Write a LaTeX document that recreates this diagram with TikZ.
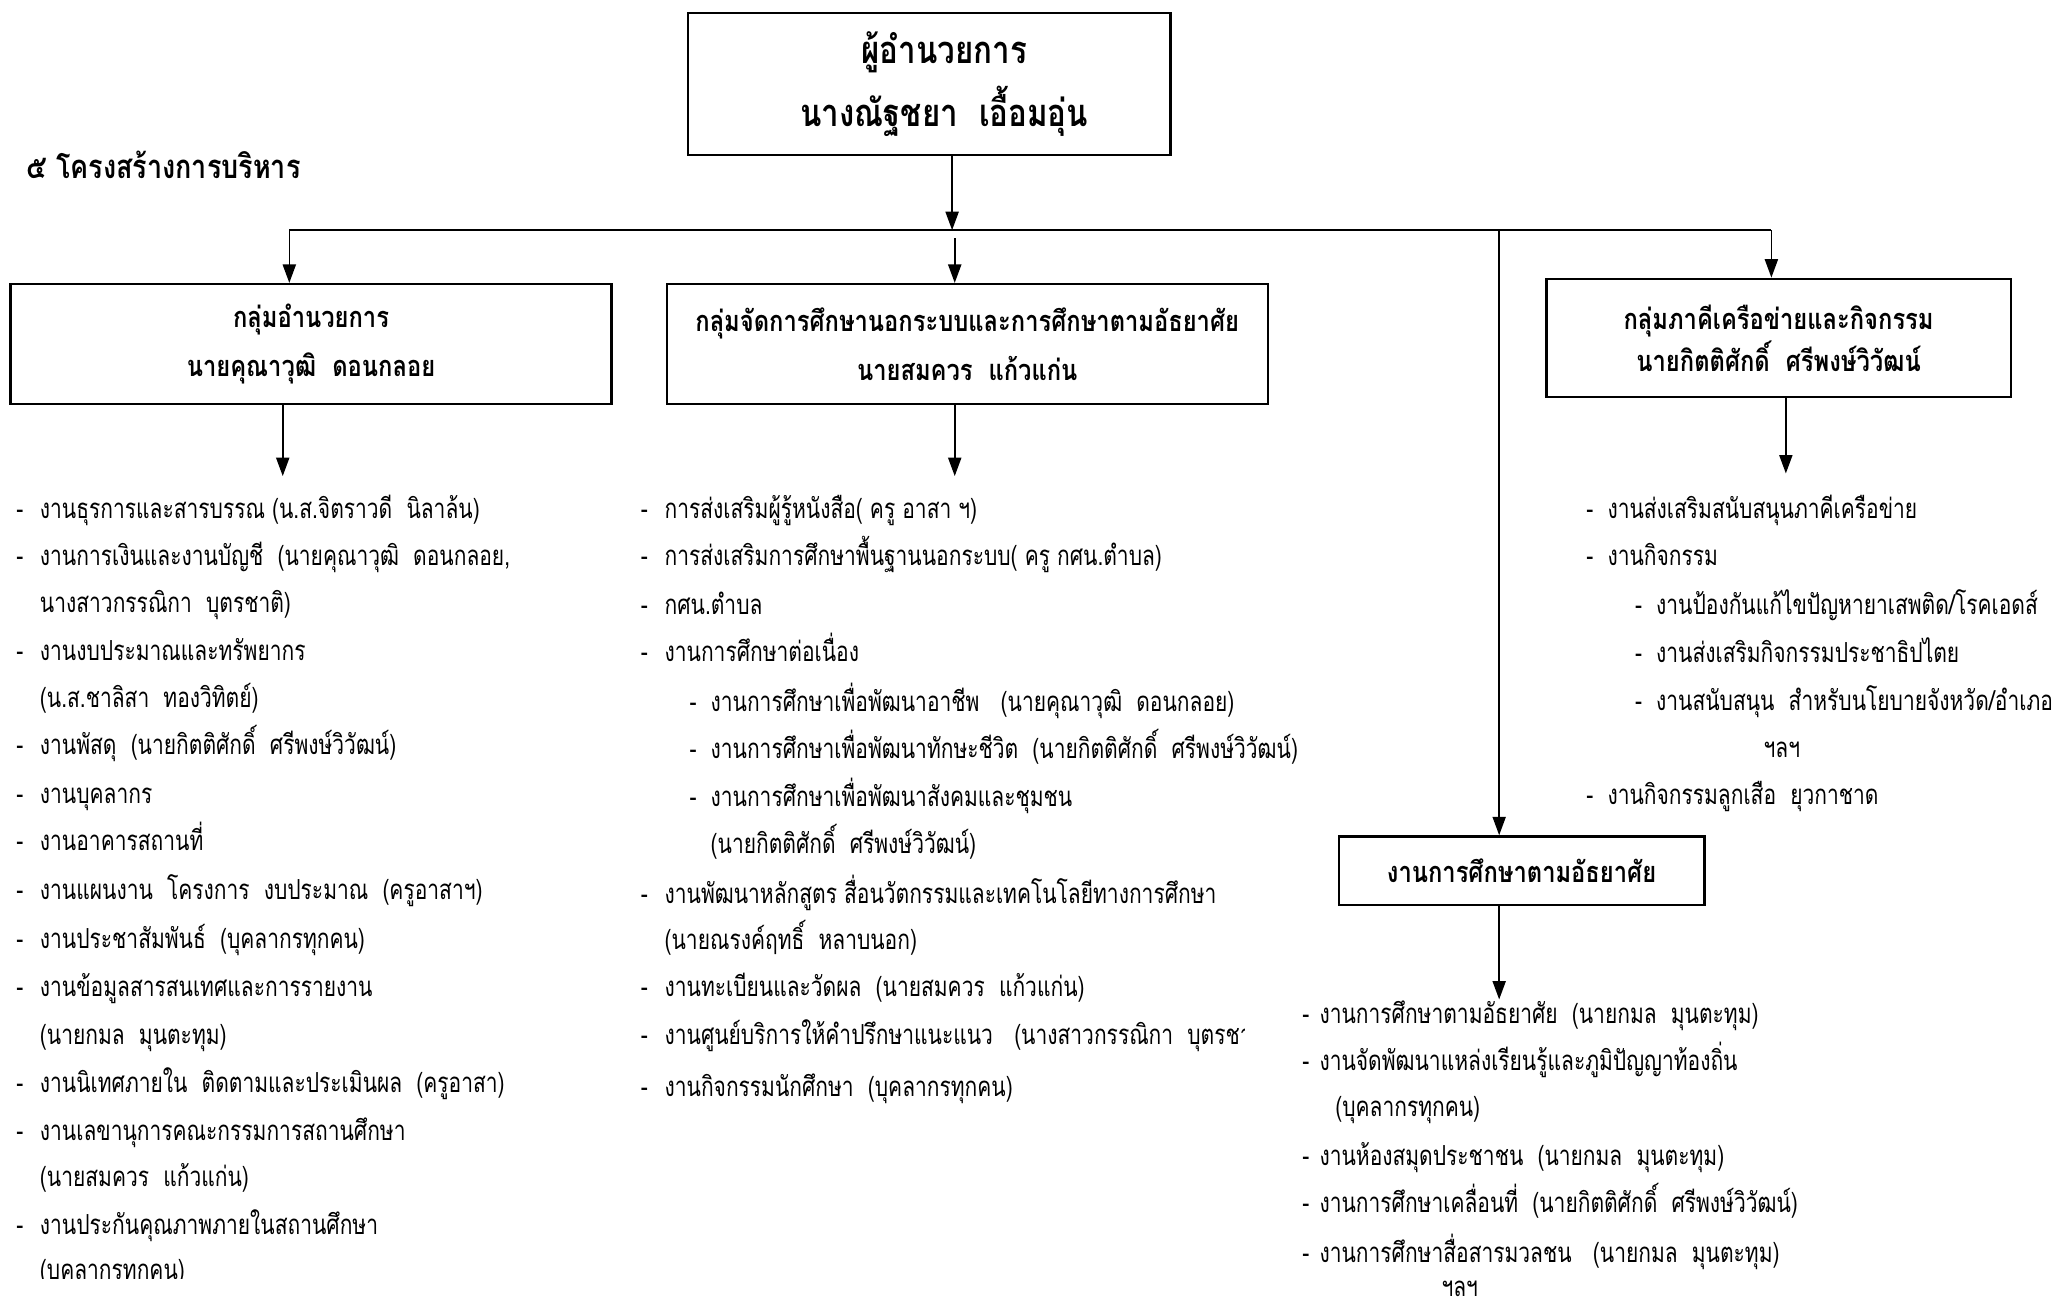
\documentclass[tikz,border=0pt]{standalone}
\usepackage{fontspec}
\usetikzlibrary{arrows.meta}
\setmainfont[Script=Thai,FakeStretch=0.76]{Loma}
\newfontfamily\thai[Script=Thai,FakeStretch=0.76]{Loma}
\newfontfamily\thaih[Script=Thai,FakeStretch=0.82]{Loma}
\newcommand\dsh[1]{\makebox[#1][l]{-}}
\begin{document}
\begin{tikzpicture}[x=0.5pt,y=-0.5pt,
  box/.style={draw, line width=0.9pt, inner sep=0pt, align=center},
  conn/.style={line width=0.6pt},
  arr/.style={line width=0.6pt, -{Triangle[length=7pt,width=5pt]}},
  item/.style={anchor=base west, inner sep=0pt, font=\thai\fontsize{10.5}{12}\selectfont},
  hdr/.style={font=\thaih\bfseries\fontsize{11}{18.5}\selectfont}]
\useasboundingbox (0,0) rectangle (1568,995);
% boxes
\node[box, minimum width=183.5pt, minimum height=54pt] (top) at (706.5,64) {};
\node[inner sep=0pt, align=center, font=\thaih\bfseries\fontsize{14.5}{24}\selectfont] (topt) at (718,64) {ผู้อำนวยการ\\นางณัฐชยา~~เอื้อมอุ่น};
\node[anchor=west, inner sep=0pt, font=\thaih\bfseries\fontsize{12.5}{14}\selectfont] (title) at (20,125) {๕ โครงสร้างการบริหาร};
\node[box, hdr, minimum width=228.5pt, minimum height=45.5pt] (g1) at (236.5,261.5) {กลุ่มอำนวยการ\\นายคุณาวุฒิ~~ดอนกลอย};
\node[box, hdr, minimum width=228.5pt, minimum height=45.5pt] (g2) at (735.5,261.5) {กลุ่มจัดการศึกษานอกระบบและการศึกษาตามอัธยาศัย\\นายสมควร~~แก้วแก่น};
\node[box, hdr, font=\thaih\bfseries\fontsize{11}{16}\selectfont, minimum width=176.5pt, minimum height=45pt] (g3) at (1352.5,257) {กลุ่มภาคีเครือข่ายและกิจกรรม\\นายกิตติศักดิ์~~ศรีพงษ์วิวัฒน์};
\node[box, hdr, minimum width=139pt, minimum height=26pt] (g4) at (1157,662) {งานการศึกษาตามอัธยาศัย};
% connectors
\coordinate (busL) at (220,175);
\coordinate (busR) at (1347,175);
\coordinate (busM) at (724,175);
\coordinate (b2s) at (726,181);
\coordinate (b4s) at (1140,175);
\draw[arr] (top.south -| busM) -- (busM);
\draw[conn] (busL) -- (busR);
\draw[arr] (busL) -- (g1.north -| busL);
\draw[arr] (b2s) -- (g2.north -| b2s);
\draw[arr] (b4s) -- (g4.north -| b4s);
\draw[arr] (busR) -- (g3.north -| busR);
\coordinate (l1) at (215,362);
\coordinate (l2) at (726,362);
\coordinate (l3) at (1358,360);
\coordinate (l4) at (1140,760);
\draw[arr] (g1.south -| l1) -- (l1);
\draw[arr] (g2.south -| l2) -- (l2);
\draw[arr] (g3.south -| l3) -- (l3);
\draw[arr] (g4.south -| l4) -- (l4);
% left list
\node[item] (L1) at (12,394) {\dsh{9pt}งานธุรการและสารบรรณ (น.ส.จิตราวดี~~นิลาล้น)};
\node[item] (L2) at (12,430) {\dsh{9pt}งานการเงินและงานบัญชี~~(นายคุณาวุฒิ~~ดอนกลอย,};
\node[item] (L3) at (30,466) {นางสาวกรรณิกา~~บุตรชาติ)};
\node[item] (L4) at (12,502) {\dsh{9pt}งานงบประมาณและทรัพยากร};
\node[item] (L5) at (30,538) {(น.ส.ชาลิสา~~ทองวิทิตย์)};
\node[item] (L6) at (12,574) {\dsh{9pt}งานพัสดุ~~(นายกิตติศักดิ์~~ศรีพงษ์วิวัฒน์)};
\node[item] (L7) at (12,611) {\dsh{9pt}งานบุคลากร};
\node[item] (L8) at (12,647) {\dsh{9pt}งานอาคารสถานที่};
\node[item] (L9) at (12,684) {\dsh{9pt}งานแผนงาน~~โครงการ~~งบประมาณ~~(ครูอาสาฯ)};
\node[item] (L10) at (12,721) {\dsh{9pt}งานประชาสัมพันธ์~~(บุคลากรทุกคน)};
\node[item] (L11) at (12,758) {\dsh{9pt}งานข้อมูลสารสนเทศและการรายงาน};
\node[item] (L12) at (30,794) {(นายกมล~~มุนตะทุม)};
\node[item] (L13) at (12,831) {\dsh{9pt}งานนิเทศภายใน~~ติดตามและประเมินผล~~(ครูอาสา)};
\node[item] (L14) at (12,867) {\dsh{9pt}งานเลขานุการคณะกรรมการสถานศึกษา};
\node[item] (L15) at (30,902) {(นายสมควร~~แก้วแก่น)};
\node[item] (L16) at (12,939) {\dsh{9pt}งานประกันคุณภาพภายในสถานศึกษา};
\begin{scope}
\clip (0,945) rectangle (700,972);
\node[item] (L17) at (30,973) {(บุคลากรทุกคน)};
\end{scope}
% middle list
\node[item] (M1) at (487,394) {\dsh{9pt}การส่งเสริมผู้รู้หนังสือ( ครู อาสา ฯ)};
\node[item] (M2) at (487,430) {\dsh{9pt}การส่งเสริมการศึกษาพื้นฐานนอกระบบ( ครู กศน.ตำบล)};
\node[item] (M3) at (487,467) {\dsh{9pt}กศน.ตำบล};
\node[item] (M4) at (487,503) {\dsh{9pt}งานการศึกษาต่อเนื่อง};
\node[item] (M5) at (524,541) {\dsh{8pt}งานการศึกษาเพื่อพัฒนาอาชีพ~~~(นายคุณาวุฒิ~~ดอนกลอย)};
\node[item] (M6) at (524,577) {\dsh{8pt}งานการศึกษาเพื่อพัฒนาทักษะชีวิต~~(นายกิตติศักดิ์~~ศรีพงษ์วิวัฒน์)};
\node[item] (M7) at (524,613) {\dsh{8pt}งานการศึกษาเพื่อพัฒนาสังคมและชุมชน};
\node[item] (M8) at (540,649) {(นายกิตติศักดิ์~~ศรีพงษ์วิวัฒน์)};
\node[item] (M9) at (487,687) {\dsh{9pt}งานพัฒนาหลักสูตร สื่อนวัตกรรมและเทคโนโลยีทางการศึกษา};
\node[item] (M10) at (505,722) {(นายณรงค์ฤทธิ์~~หลาบนอก)};
\node[item] (M11) at (487,758) {\dsh{9pt}งานทะเบียนและวัดผล~~(นายสมควร~~แก้วแก่น)};
\begin{scope}
\clip (470,760) rectangle (946,810);
\node[item] (M12) at (487,794) {\dsh{9pt}งานศูนย์บริการให้คำปรึกษาแนะแนว~~~(นางสาวกรรณิกา~~บุตรชาติ)};
\end{scope}
\node[item] (M13) at (487,834) {\dsh{9pt}งานกิจกรรมนักศึกษา~~(บุคลากรทุกคน)};
% right list
\node[item] (R1) at (1206,394) {\dsh{8pt}งานส่งเสริมสนับสนุนภาคีเครือข่าย};
\node[item] (R2) at (1206,430) {\dsh{8pt}งานกิจกรรม};
\node[item] (R3) at (1243,467) {\dsh{8pt}งานป้องกันแก้ไขปัญหายาเสพติด/โรคเอดส์};
\node[item] (R4) at (1243,504) {\dsh{8pt}งานส่งเสริมกิจกรรมประชาธิปไตย};
\node[item] (R5) at (1243,540) {\dsh{8pt}งานสนับสนุน~~สำหรับนโยบายจังหวัด/อำเภอ};
\node[item, anchor=base] (R6) at (1355,576) {ฯลฯ};
\node[item] (R7) at (1206,612) {\dsh{8pt}งานกิจกรรมลูกเสือ~~ยุวกาชาด};
% bottom right list
\node[item] (B1) at (990,778) {\dsh{6.5pt}งานการศึกษาตามอัธยาศัย~~(นายกมล~~มุนตะทุม)};
\node[item] (B2) at (990,814) {\dsh{6.5pt}งานจัดพัฒนาแหล่งเรียนรู้และภูมิปัญญาท้องถิ่น};
\node[item] (B3) at (1015,849) {(บุคลากรทุกคน)};
\node[item] (B4) at (990,886) {\dsh{6.5pt}งานห้องสมุดประชาชน~~(นายกมล~~มุนตะทุม)};
\node[item] (B5) at (990,922) {\dsh{6.5pt}งานการศึกษาเคลื่อนที่~~(นายกิตติศักดิ์~~ศรีพงษ์วิวัฒน์)};
\node[item] (B6) at (990,960) {\dsh{6.5pt}งานการศึกษาสื่อสารมวลชน~~~(นายกมล~~มุนตะทุม)};
\node[item, anchor=base] (B7) at (1110,986) {ฯลฯ};
\end{tikzpicture}
\end{document}
